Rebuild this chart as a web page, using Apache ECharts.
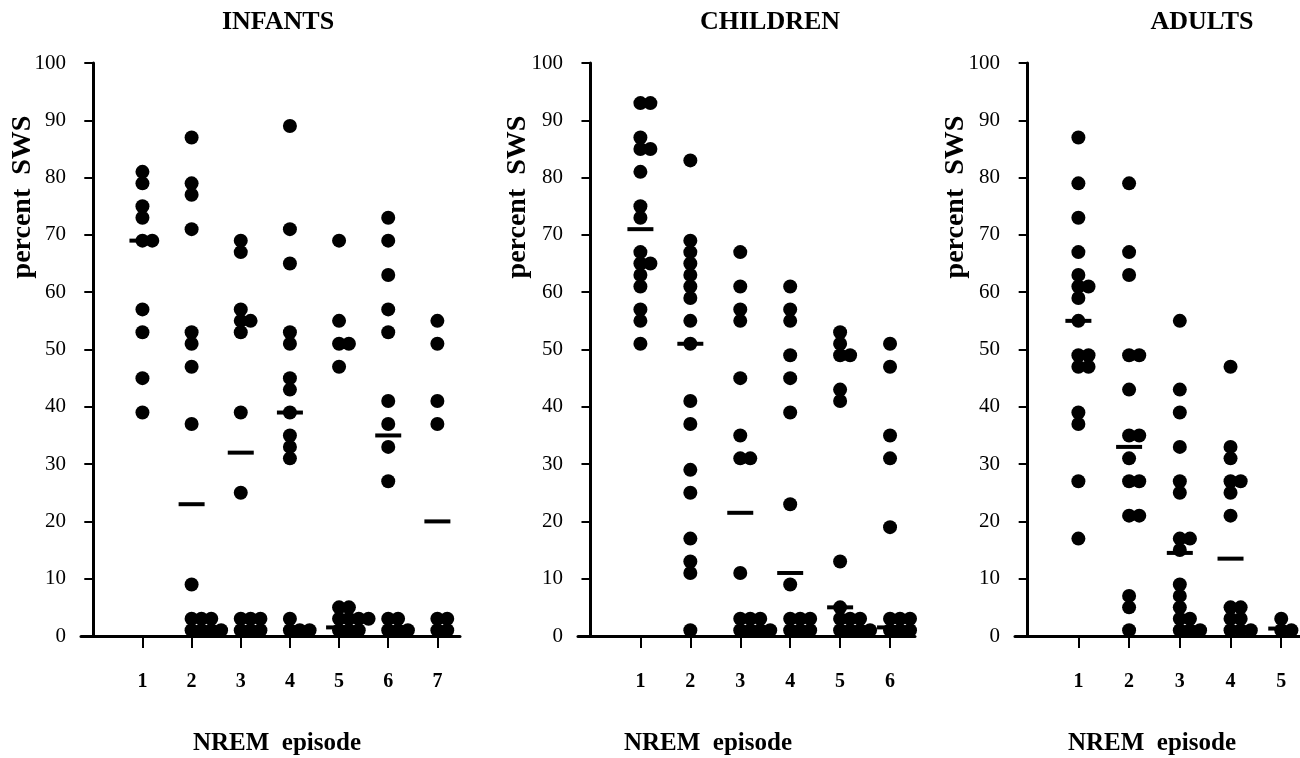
<!DOCTYPE html>
<html>
<head>
<meta charset="utf-8">
<script src="https://cdn.jsdelivr.net/npm/echarts@6/dist/echarts.min.js"></script>
<style>
html, body { margin: 0; padding: 0; background: #fff; }
#container { width: 1300px; height: 758px; }
</style>
</head>
<body>
<div id="container"></div>
<script>
// percent SWS per NREM episode, one list per episode
var infants = [
    [81, 79, 75, 73, 69, 69, 57, 53, 45, 39],
    [87, 79, 77, 71, 53, 51, 47, 37, 9, 3, 3, 3, 1, 1, 1, 1],
    [69, 67, 57, 55, 55, 53, 39, 25, 3, 3, 3, 1, 1, 1],
    [89, 71, 65, 53, 51, 45, 43, 39, 35, 33, 31, 3, 1, 1, 1],
    [69, 55, 51, 51, 47, 5, 5, 3, 3, 3, 3, 1, 1, 1],
    [73, 69, 63, 57, 53, 41, 37, 33, 27, 3, 3, 1, 1, 1],
    [55, 51, 41, 37, 3, 3, 1, 1]
];
var infantMedians = [69, 23, 32, 39, 1.5, 35, 20];

var children = [
    [93, 93, 87, 85, 85, 81, 75, 73, 67, 65, 65, 63, 61, 57, 55, 51],
    [83, 69, 67, 65, 63, 61, 59, 55, 51, 41, 37, 29, 25, 17, 13, 11, 1],
    [67, 61, 57, 55, 45, 35, 31, 31, 11, 3, 3, 3, 1, 1, 1, 1],
    [61, 57, 55, 49, 45, 39, 23, 9, 3, 3, 3, 1, 1, 1],
    [53, 51, 49, 49, 43, 41, 13, 5, 3, 3, 3, 1, 1, 1, 1],
    [51, 47, 35, 31, 19, 3, 3, 3, 1, 1, 1]
];
var childMedians = [71, 51, 21.5, 11, 5, 1.5];

var adults = [
    [87, 79, 73, 67, 63, 61, 61, 59, 55, 49, 49, 47, 47, 39, 37, 27, 17],
    [79, 67, 63, 49, 49, 43, 35, 35, 31, 27, 27, 21, 21, 7, 5, 1],
    [55, 43, 39, 33, 27, 25, 17, 17, 15, 9, 7, 5, 3, 3, 1, 1, 1],
    [47, 33, 31, 27, 27, 25, 21, 5, 5, 3, 3, 1, 1, 1],
    [3, 1, 1]
];
var adultMedians = [55, 33, 14.5, 13.5, 1.3];

var groupNames = ['INFANTS', 'CHILDREN', 'ADULTS'];
var yTicks = [0, 10, 20, 30, 40, 50, 60, 70, 80, 90, 100];
var yName = 'percent  SWS';
var xName = 'NREM  episode';

var serif = '"Liberation Serif", "DejaVu Serif", serif';

// panel layout: grid left edge (at x = -0.25), width, x max, text centres
var panels = [
    {data: infants, medians: infantMedians, left: 81, width: 379, max: 7.46, title: 278, xname: 277, yname: 23},
    {data: children, medians: childMedians, left: 578, width: 337, max: 6.5, title: 770, xname: 708, yname: 518},
    {data: adults, medians: adultMedians, left: 1015, width: 285, max: 5.37, title: 1202, xname: 1152, yname: 956},
];

let chart = echarts.init(document.getElementById('container'));

let grids = [], xAxes = [], yAxes = [], series = [], graphics = [];

panels.forEach((p, i) => {
    grids.push({left: p.left, top: 63, width: p.width, height: 573});
    let episodes = p.data.map((d, k) => k + 1);
    xAxes.push({
        type: 'value',
        gridIndex: i,
        min: -0.25,
        max: p.max,
        splitLine: {show: false},
        axisLine: {show: true, lineStyle: {color: '#000', width: 3}},
        axisTick: {show: true, inside: false, length: 12, customValues: episodes,
            lineStyle: {color: '#000', width: 2}},
        axisLabel: {show: true, customValues: episodes, margin: 36, color: '#000',
            fontFamily: serif, fontWeight: 'bold', fontSize: 20},
    });
    yAxes.push({
        type: 'value',
        gridIndex: i,
        min: 0,
        max: 100,
        interval: 10,
        splitLine: {show: false},
        axisLine: {show: true, onZero: true, lineStyle: {color: '#000', width: 3}},
        axisTick: {show: true, length: 9, lineStyle: {color: '#000', width: 2}},
        axisLabel: {show: true, customValues: yTicks, margin: 15, color: '#000',
            fontFamily: serif, fontSize: 21},
    });

    // dots: equal values in one episode sit side by side
    let dots = [];
    p.data.forEach((values, k) => {
        let seen = {};
        values.forEach(v => {
            let n = seen[v] || 0;
            seen[v] = n + 1;
            dots.push([k + 1 + n * 0.2, v]);
        });
    });
    series.push({
        type: 'scatter',
        xAxisIndex: i,
        yAxisIndex: i,
        symbol: 'circle',
        symbolSize: 14,
        itemStyle: {color: '#000', opacity: 1},
        silent: true,
        animation: false,
        data: dots,
    });
    series.push({
        type: 'scatter',
        xAxisIndex: i,
        yAxisIndex: i,
        symbol: 'rect',
        symbolSize: [26, 4],
        itemStyle: {color: '#000', opacity: 1},
        silent: true,
        animation: false,
        z: 3,
        data: p.medians.map((m, k) => [k + 1, m]),
    });

    graphics.push({
        type: 'text', x: p.title, y: 22,
        style: {text: groupNames[i], fill: '#000', font: 'bold 26px ' + serif,
            textAlign: 'center', textVerticalAlign: 'middle'},
    });
    graphics.push({
        type: 'text', x: p.xname, y: 744,
        style: {text: xName, fill: '#000', font: 'bold 25px ' + serif,
            textAlign: 'center', textVerticalAlign: 'middle'},
    });
    graphics.push({
        type: 'text', x: p.yname, y: 197, rotation: Math.PI / 2,
        style: {text: yName, fill: '#000', font: 'bold 28px ' + serif,
            textAlign: 'center', textVerticalAlign: 'middle'},
    });
});

let option = {
    backgroundColor: '#fff',
    animation: false,
    grid: grids,
    xAxis: xAxes,
    yAxis: yAxes,
    series: series,
    graphic: graphics,
};
chart.setOption(option);
</script>
</body>
</html>
